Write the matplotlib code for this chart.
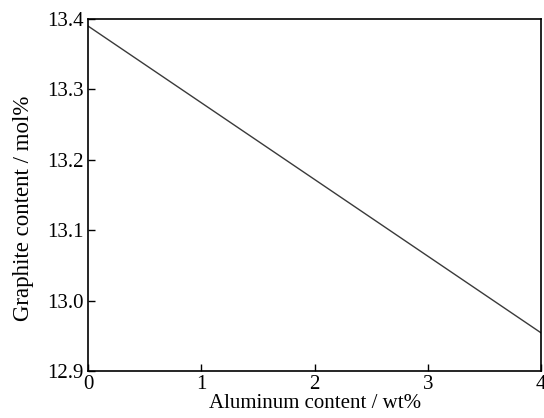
import matplotlib.pyplot as plt

plt.rcParams['font.family'] = ['Liberation Serif', 'DejaVu Serif']

aluminum = [0, 1, 2, 3, 4]
graphite = [13.390, 13.281, 13.172, 13.063, 12.954]

fig = plt.figure(figsize=(5.44, 4.18), dpi=100)
ax = fig.add_axes([0.162, 0.1124, 0.833, 0.842])

ax.plot(aluminum, graphite, color='#3a3a3a', lw=1.0)

ax.set_xlim(0, 4)
ax.set_ylim(12.9, 13.4)
ax.set_xticks([0, 1, 2, 3, 4])
ax.set_yticks([12.9, 13.0, 13.1, 13.2, 13.3, 13.4])
ax.set_yticklabels(['12.9', '13.0', '13.1', '13.2', '13.3', '13.4'])
ax.tick_params(direction='in', length=5, width=1, labelsize=15, pad=3, colors='black')
for s in ax.spines.values():
    s.set_linewidth(1.2)

ax.set_xlabel('Aluminum content / wt%', fontsize=15, labelpad=0)
ax.set_ylabel('Graphite content / mol%', fontsize=16.5)
ax.yaxis.set_label_coords(-0.12, 0.463)

fig.savefig('out.png', dpi=100)
